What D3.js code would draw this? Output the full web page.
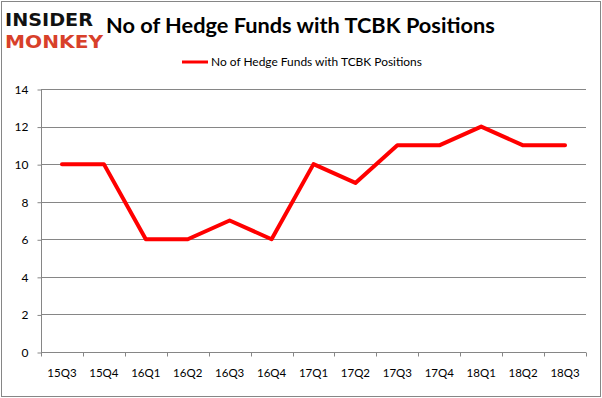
<!DOCTYPE html>
<html><head><meta charset="utf-8">
<script src="https://cdn.jsdelivr.net/npm/d3@7"></script>
<style>body{margin:0;background:#fff}svg{display:block}</style>
</head><body>
<script>
const categories = ["15Q3","15Q4","16Q1","16Q2","16Q3","16Q4","17Q1","17Q2","17Q3","17Q4","18Q1","18Q2","18Q3"];
const values = [10,10,6,6,7,6,10,9,11,11,12,11,11];
const yTicks = [0,2,4,6,8,10,12,14];
const seriesName = "No of Hedge Funds with TCBK Positions";
const titleText = "No of Hedge Funds with TCBK Positions";

const W = 602, H = 398;
const svg = d3.select("body").append("svg").attr("width", W).attr("height", H);
svg.append("rect").attr("x",1.5).attr("y",1.5).attr("width",W-3).attr("height",H-3)
  .attr("fill","#fff").attr("stroke","#868686").attr("stroke-width",1);

const m = {left:41, right:586, top:89, bottom:352};
const x = d3.scaleBand().domain(categories).range([m.left, m.right]);
const y = d3.scaleLinear().domain([0,14]).range([m.bottom, m.top]);
const font = "Lato, 'Open Sans', sans-serif";

// gridlines
svg.append("g").selectAll("line").data(yTicks.filter(d=>d>0)).join("line")
  .attr("x1", m.left).attr("x2", m.right)
  .attr("y1", d=>Math.round(y(d))+0.5).attr("y2", d=>Math.round(y(d))+0.5)
  .attr("stroke","#868686").attr("stroke-width",1);

// y axis
const ya = svg.append("g").attr("transform",`translate(${m.left+0.5},0.5)`)
  .call(d3.axisLeft(y).tickValues(yTicks).tickSize(4).tickPadding(9).tickFormat(d3.format("d")));
ya.select(".domain").attr("stroke","#868686").attr("d",`M0,${m.top}V${m.bottom}`);
ya.selectAll(".tick line").attr("stroke","#868686");
ya.selectAll("text").attr("font-family",font).attr("font-size",12).attr("fill","#000");

// x axis
const xa = svg.append("g").attr("transform",`translate(0,${m.bottom+0.5})`)
  .call(d3.axisBottom(x).tickSize(0).tickPadding(16));
xa.select(".domain").attr("stroke","#868686").attr("d",`M${m.left},0H${m.right}`);
xa.selectAll("text").attr("font-family",font).attr("font-size",11.5).attr("fill","#000");
const bounds = categories.map(c=>x(c)).concat([m.right]);
xa.append("g").selectAll("line").data(bounds).join("line")
  .attr("x1",d=>Math.round(d)+0.5).attr("x2",d=>Math.round(d)+0.5)
  .attr("y1",0).attr("y2",4).attr("stroke","#868686");

// line
const line = d3.line().x((d,i)=>x(categories[i])+x.bandwidth()/2).y(d=>y(d));
svg.append("path").datum(values).attr("d",line).attr("fill","none")
  .attr("stroke","#ff0000").attr("stroke-width",4).attr("stroke-linejoin","round").attr("stroke-linecap","round");

// title
const t = svg.append("text").attr("x",106).attr("y",33).attr("font-family",font)
  .attr("font-weight","bold").attr("font-size",20).attr("fill","#000").text(titleText);
const tw = t.node().getComputedTextLength();
t.attr("font-size", 20*389/tw);

// legend
svg.append("line").attr("x1",182).attr("x2",208).attr("y1",62).attr("y2",62)
  .attr("stroke","#ff0000").attr("stroke-width",3);
const lt = svg.append("text").attr("x",211).attr("y",66).attr("font-family",font)
  .attr("font-size",12).attr("fill","#000").text(seriesName);
const lw = lt.node().getComputedTextLength();
lt.attr("font-size", 12*211/lw);

// logo
const l1 = svg.append("text").attr("x",5).attr("y",26).attr("font-family","'DejaVu Sans', sans-serif")
  .attr("font-weight","900").attr("font-size",18).attr("fill","#111").text("INSIDER");
l1.attr("textLength",88).attr("lengthAdjust","spacingAndGlyphs");
const l2 = svg.append("text").attr("x",5).attr("y",48).attr("font-family","'DejaVu Sans', sans-serif")
  .attr("font-weight","900").attr("font-size",18).attr("fill","#d8402a").text("MONKEY");
l2.attr("textLength",98).attr("lengthAdjust","spacingAndGlyphs");
</script>
</body></html>
